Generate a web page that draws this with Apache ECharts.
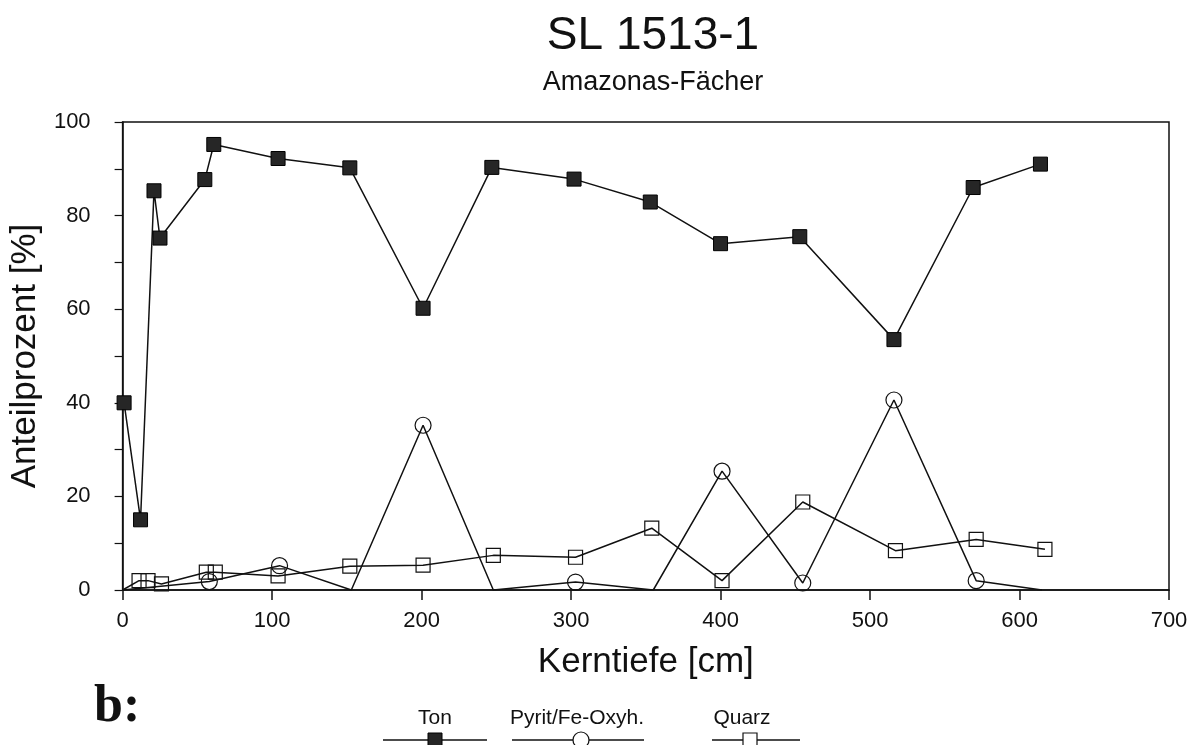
<!DOCTYPE html>
<html>
<head>
<meta charset="utf-8">
<script src="https://cdn.jsdelivr.net/npm/echarts/dist/echarts.min.js"></script>
<style>
  html, body { margin: 0; padding: 0; background: #fff; }
  #chart { width: 1201px; height: 745px; }
</style>
</head>
<body>
<div id="chart"></div>
<script>
// Kerntiefe [cm] / Anteilprozent [%]
const tonDepth = [1, 12, 21, 25, 55, 61, 104, 152, 201, 247, 302, 353, 400, 453, 516, 569, 614]
const tonValue = [40, 15, 85.3, 75.2, 87.7, 95.2, 92.2, 90.2, 60.2, 90.3, 87.8, 82.9, 74, 75.5, 53.5, 86, 91]

const pyritDepth = [0, 58, 105, 153, 201, 248, 303, 355, 401, 455, 516, 571, 615]
const pyritValue = [0, 1.8, 5.2, 0, 35.2, 0, 1.7, 0, 25.4, 1.5, 40.6, 2, 0]

const quarzDepth = [0, 11, 17, 26, 56, 62, 104, 152, 201, 248, 303, 354, 401, 455, 517, 571, 617]
const quarzValue = [0, 2, 2, 1.3, 3.8, 3.8, 3.0, 5.1, 5.3, 7.4, 7.0, 13.2, 2.0, 18.8, 8.4, 10.8, 8.7]

const seriesNames = ['Ton', 'Pyrit/Fe-Oxyh.', 'Quarz']

const pairs = (xs, ys) => xs.map((x, i) => [x, ys[i]])
// points sitting on the baseline have no marker in the original
const markerSize = size => (val) => (val[1] === 0 ? 0 : size)

const font = 'Liberation Sans, Arial, Helvetica, sans-serif'
const ink = '#111'

const chart = echarts.init(document.getElementById('chart'))
const option = {
  animation: false,
  backgroundColor: '#fff',
  textStyle: { fontFamily: font, color: ink },
  title: {
    text: 'SL 1513-1',
    subtext: 'Amazonas-Fächer',
    left: 648,
    top: 8,
    textAlign: 'center',
    itemGap: 10,
    textStyle: { fontFamily: font, fontSize: 46, fontWeight: 'normal', color: ink },
    subtextStyle: { fontFamily: font, fontSize: 27, color: ink }
  },
  grid: {
    left: 122,
    right: 32,
    top: 122,
    bottom: 155,
    show: true,
    borderColor: ink,
    borderWidth: 1.5,
    backgroundColor: 'transparent'
  },
  xAxis: {
    type: 'value',
    min: 0,
    max: 700,
    interval: 100,
    name: 'Kerntiefe [cm]',
    nameLocation: 'middle',
    nameGap: 55,
    nameTextStyle: { fontFamily: font, fontSize: 35, color: ink },
    axisLine: { lineStyle: { color: ink, width: 1.5 } },
    axisTick: { show: true, inside: false, length: 10, lineStyle: { color: ink, width: 1.5 } },
    axisLabel: { fontFamily: font, fontSize: 22, color: ink, margin: 20 },
    splitLine: { show: false }
  },
  yAxis: {
    type: 'value',
    min: 0,
    max: 100,
    interval: 10,
    name: 'Anteilprozent [%]',
    nameLocation: 'middle',
    nameGap: 72,
    nameTextStyle: { fontFamily: font, fontSize: 35, color: ink },
    axisLine: { show: true, lineStyle: { color: ink, width: 1.5 } },
    axisTick: { show: true, inside: false, length: 8, lineStyle: { color: ink, width: 1.2 } },
    axisLabel: {
      fontFamily: font,
      fontSize: 22,
      color: ink,
      margin: 32,
      formatter: v => (v % 20 === 0 ? String(v) : '')
    },
    splitLine: { show: false }
  },
  series: [
    {
      name: seriesNames[0],
      type: 'line',
      data: pairs(tonDepth, tonValue),
      symbol: 'rect',
      symbolSize: 14,
      showAllSymbol: true,
      lineStyle: { color: ink, width: 1.5 },
      itemStyle: { color: '#262626', borderColor: '#000', borderWidth: 1 },
      z: 4
    },
    {
      name: seriesNames[1],
      type: 'line',
      data: pairs(pyritDepth, pyritValue),
      symbol: 'circle',
      symbolSize: markerSize(16),
      showAllSymbol: true,
      lineStyle: { color: ink, width: 1.5 },
      itemStyle: { color: 'rgba(255,255,255,0)', borderColor: ink, borderWidth: 1.2 },
      z: 3
    },
    {
      name: seriesNames[2],
      type: 'line',
      data: pairs(quarzDepth, quarzValue),
      symbol: 'rect',
      symbolSize: markerSize(14),
      showAllSymbol: true,
      lineStyle: { color: ink, width: 1.5 },
      itemStyle: { color: 'rgba(255,255,255,0)', borderColor: ink, borderWidth: 1.2 },
      z: 3
    }
  ],
  graphic: [
    {
      type: 'text',
      left: 94,
      top: 682,
      style: { text: 'b:', fontFamily: 'Liberation Serif, Times New Roman, serif', fontSize: 52, fontWeight: 'bold', fill: ink }
    },
    // legend: name above, line with marker below
    { type: 'text', x: 435, y: 718, style: { text: seriesNames[0], fontFamily: font, fontSize: 21, fill: ink, align: 'center', verticalAlign: 'middle' } },
    { type: 'line', shape: { x1: 383, y1: 740, x2: 487, y2: 740 }, style: { stroke: ink, lineWidth: 1.5 } },
    { type: 'rect', shape: { x: 428, y: 733, width: 14, height: 14 }, style: { fill: '#262626', stroke: '#000' } },

    { type: 'text', x: 577, y: 718, style: { text: seriesNames[1], fontFamily: font, fontSize: 21, fill: ink, align: 'center', verticalAlign: 'middle' } },
    { type: 'line', shape: { x1: 512, y1: 740, x2: 644, y2: 740 }, style: { stroke: ink, lineWidth: 1.5 } },
    { type: 'circle', shape: { cx: 581, cy: 740, r: 8 }, style: { fill: '#fff', stroke: ink, lineWidth: 1.2 } },

    { type: 'text', x: 742, y: 718, style: { text: seriesNames[2], fontFamily: font, fontSize: 21, fill: ink, align: 'center', verticalAlign: 'middle' } },
    { type: 'line', shape: { x1: 712, y1: 740, x2: 800, y2: 740 }, style: { stroke: ink, lineWidth: 1.5 } },
    { type: 'rect', shape: { x: 743, y: 733, width: 14, height: 14 }, style: { fill: '#fff', stroke: ink, lineWidth: 1.2 } }
  ]
}
chart.setOption(option, true)
</script>
</body>
</html>
